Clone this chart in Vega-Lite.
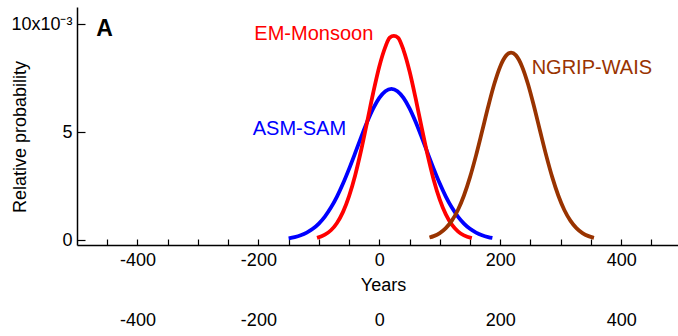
{
  "$schema": "https://vega.github.io/schema/vega-lite/v6.json",
  "width": 601,
  "height": 238,
  "autosize": {"type": "none"},
  "padding": {"left": 77, "top": 7, "right": 0, "bottom": 91},
  "background": "white",
  "config": {"view": {"stroke": null}, "font": "Liberation Sans"},
  "datasets": {
    "curves": [
      {"series": "ASM-SAM", "year": -150, "prob": 0.082},
      {"series": "ASM-SAM", "year": -140, "prob": 0.136},
      {"series": "ASM-SAM", "year": -130, "prob": 0.219},
      {"series": "ASM-SAM", "year": -120, "prob": 0.343},
      {"series": "ASM-SAM", "year": -110, "prob": 0.519},
      {"series": "ASM-SAM", "year": -100, "prob": 0.763},
      {"series": "ASM-SAM", "year": -90, "prob": 1.087},
      {"series": "ASM-SAM", "year": -80, "prob": 1.502},
      {"series": "ASM-SAM", "year": -70, "prob": 2.013},
      {"series": "ASM-SAM", "year": -60, "prob": 2.614},
      {"series": "ASM-SAM", "year": -50, "prob": 3.293},
      {"series": "ASM-SAM", "year": -40, "prob": 4.023},
      {"series": "ASM-SAM", "year": -30, "prob": 4.764},
      {"series": "ASM-SAM", "year": -20, "prob": 5.473},
      {"series": "ASM-SAM", "year": -10, "prob": 6.095},
      {"series": "ASM-SAM", "year": 0, "prob": 6.582},
      {"series": "ASM-SAM", "year": 10, "prob": 6.893},
      {"series": "ASM-SAM", "year": 20, "prob": 7.0},
      {"series": "ASM-SAM", "year": 30, "prob": 6.893},
      {"series": "ASM-SAM", "year": 40, "prob": 6.582},
      {"series": "ASM-SAM", "year": 50, "prob": 6.095},
      {"series": "ASM-SAM", "year": 60, "prob": 5.473},
      {"series": "ASM-SAM", "year": 70, "prob": 4.764},
      {"series": "ASM-SAM", "year": 80, "prob": 4.023},
      {"series": "ASM-SAM", "year": 90, "prob": 3.293},
      {"series": "ASM-SAM", "year": 100, "prob": 2.614},
      {"series": "ASM-SAM", "year": 110, "prob": 2.013},
      {"series": "ASM-SAM", "year": 120, "prob": 1.502},
      {"series": "ASM-SAM", "year": 130, "prob": 1.087},
      {"series": "ASM-SAM", "year": 140, "prob": 0.763},
      {"series": "ASM-SAM", "year": 150, "prob": 0.519},
      {"series": "ASM-SAM", "year": 160, "prob": 0.343},
      {"series": "ASM-SAM", "year": 170, "prob": 0.219},
      {"series": "ASM-SAM", "year": 180, "prob": 0.136},
      {"series": "ASM-SAM", "year": 187, "prob": 0.096},
      {"series": "EM-Monsoon", "year": -103, "prob": 0.102},
      {"series": "EM-Monsoon", "year": -90, "prob": 0.246},
      {"series": "EM-Monsoon", "year": -80, "prob": 0.453},
      {"series": "EM-Monsoon", "year": -70, "prob": 0.791},
      {"series": "EM-Monsoon", "year": -60, "prob": 1.303},
      {"series": "EM-Monsoon", "year": -50, "prob": 2.032},
      {"series": "EM-Monsoon", "year": -40, "prob": 2.992},
      {"series": "EM-Monsoon", "year": -30, "prob": 4.167},
      {"series": "EM-Monsoon", "year": -20, "prob": 5.488},
      {"series": "EM-Monsoon", "year": -10, "prob": 6.832},
      {"series": "EM-Monsoon", "year": 0, "prob": 8.039},
      {"series": "EM-Monsoon", "year": 10, "prob": 8.944},
      {"series": "EM-Monsoon", "year": 17, "prob": 9.37},
      {"series": "EM-Monsoon", "year": 24, "prob": 9.45},
      {"series": "EM-Monsoon", "year": 31, "prob": 9.37},
      {"series": "EM-Monsoon", "year": 40, "prob": 8.795},
      {"series": "EM-Monsoon", "year": 50, "prob": 7.816},
      {"series": "EM-Monsoon", "year": 60, "prob": 6.568},
      {"series": "EM-Monsoon", "year": 70, "prob": 5.217},
      {"series": "EM-Monsoon", "year": 80, "prob": 3.918},
      {"series": "EM-Monsoon", "year": 90, "prob": 2.782},
      {"series": "EM-Monsoon", "year": 100, "prob": 1.867},
      {"series": "EM-Monsoon", "year": 110, "prob": 1.185},
      {"series": "EM-Monsoon", "year": 120, "prob": 0.711},
      {"series": "EM-Monsoon", "year": 130, "prob": 0.403},
      {"series": "EM-Monsoon", "year": 140, "prob": 0.216},
      {"series": "EM-Monsoon", "year": 153, "prob": 0.088},
      {"series": "NGRIP-WAIS", "year": 83, "prob": 0.117},
      {"series": "NGRIP-WAIS", "year": 90, "prob": 0.181},
      {"series": "NGRIP-WAIS", "year": 100, "prob": 0.323},
      {"series": "NGRIP-WAIS", "year": 110, "prob": 0.552},
      {"series": "NGRIP-WAIS", "year": 120, "prob": 0.898},
      {"series": "NGRIP-WAIS", "year": 130, "prob": 1.392},
      {"series": "NGRIP-WAIS", "year": 140, "prob": 2.062},
      {"series": "NGRIP-WAIS", "year": 150, "prob": 2.911},
      {"series": "NGRIP-WAIS", "year": 160, "prob": 3.92},
      {"series": "NGRIP-WAIS", "year": 170, "prob": 5.036},
      {"series": "NGRIP-WAIS", "year": 180, "prob": 6.171},
      {"series": "NGRIP-WAIS", "year": 190, "prob": 7.212},
      {"series": "NGRIP-WAIS", "year": 200, "prob": 8.04},
      {"series": "NGRIP-WAIS", "year": 210, "prob": 8.55},
      {"series": "NGRIP-WAIS", "year": 218, "prob": 8.68},
      {"series": "NGRIP-WAIS", "year": 226, "prob": 8.55},
      {"series": "NGRIP-WAIS", "year": 236, "prob": 8.04},
      {"series": "NGRIP-WAIS", "year": 246, "prob": 7.212},
      {"series": "NGRIP-WAIS", "year": 256, "prob": 6.171},
      {"series": "NGRIP-WAIS", "year": 266, "prob": 5.036},
      {"series": "NGRIP-WAIS", "year": 276, "prob": 3.92},
      {"series": "NGRIP-WAIS", "year": 286, "prob": 2.911},
      {"series": "NGRIP-WAIS", "year": 296, "prob": 2.062},
      {"series": "NGRIP-WAIS", "year": 306, "prob": 1.392},
      {"series": "NGRIP-WAIS", "year": 316, "prob": 0.898},
      {"series": "NGRIP-WAIS", "year": 326, "prob": 0.552},
      {"series": "NGRIP-WAIS", "year": 336, "prob": 0.323},
      {"series": "NGRIP-WAIS", "year": 346, "prob": 0.181},
      {"series": "NGRIP-WAIS", "year": 355, "prob": 0.103}
    ],
    "rightLabels": [
      {"series": "EM-Monsoon", "year": -10, "prob": 9.54},
      {"series": "ASM-SAM", "year": -55, "prob": 5.14}
    ],
    "leftLabels": [
      {"series": "NGRIP-WAIS", "year": 252, "prob": 7.95}
    ],
    "panel": [
      {"name": "A", "year": -468, "prob": 9.77}
    ]
  },
  "layer": [
    {
      "data": {"name": "curves"},
      "mark": {"type": "line", "strokeWidth": 3.8, "interpolate": "monotone"},
      "encoding": {
        "x": {
          "field": "year", "type": "quantitative",
          "scale": {"domain": [-500, 494], "nice": false, "zero": false},
          "axis": {
            "orient": "bottom",
            "values": [-450, -400, -350, -300, -250, -200, -150, -100, -50, 0, 50, 100, 150, 200, 250, 300, 350, 400, 450],
            "labelExpr": "datum.value % 200 === 0 ? '' + datum.value : ''",
            "labelOverlap": false, "labelFlush": false,
            "grid": false,
            "tickSize": -6, "tickColor": "black", "tickWidth": 1.2,
            "domainColor": "black", "domainWidth": 1.5,
            "labelPadding": 12, "labelFontSize": 18, "labelColor": "black",
            "labelFont": "Liberation Sans",
            "title": "Years", "titleFontSize": 18, "titleFontWeight": "normal",
            "titleColor": "black", "titleFont": "Liberation Sans",
            "titleX": 306, "titleY": 40, "titleBaseline": "middle", "titleAlign": "center"
          }
        },
        "y": {
          "field": "prob", "type": "quantitative",
          "scale": {"domain": [-0.23, 10.79], "nice": false, "zero": false},
          "axis": {
            "values": [0, 5, 10],
            "labelExpr": "datum.value === 10 ? '10x10⁻³' : '' + datum.value",
            "grid": false,
            "tickSize": -8, "tickColor": "black", "tickWidth": 1.2,
            "domainColor": "black", "domainWidth": 1.5,
            "labelPadding": 13, "labelFontSize": 18, "labelColor": "black",
            "labelFont": "Liberation Sans",
            "title": "Relative probability", "titleFontSize": 18, "titleFontWeight": "normal",
            "titleColor": "black", "titleFont": "Liberation Sans",
            "titleX": -57, "titleY": 129.5, "titleAngle": -90,
            "titleBaseline": "middle", "titleAlign": "center"
          }
        },
        "color": {
          "field": "series", "type": "nominal",
          "scale": {"domain": ["ASM-SAM", "EM-Monsoon", "NGRIP-WAIS"], "range": ["#0000ff", "#ff0000", "#993300"]},
          "legend": null
        }
      }
    },
    {
      "data": {"name": "rightLabels"},
      "mark": {"type": "text", "align": "right", "baseline": "middle", "fontSize": 20, "font": "Liberation Sans"},
      "encoding": {
        "x": {"field": "year", "type": "quantitative", "axis": null},
        "y": {"field": "prob", "type": "quantitative"},
        "text": {"field": "series"},
        "color": {"field": "series", "type": "nominal", "legend": null}
      }
    },
    {
      "data": {"name": "leftLabels"},
      "mark": {"type": "text", "align": "left", "baseline": "middle", "fontSize": 20, "font": "Liberation Sans"},
      "encoding": {
        "x": {"field": "year", "type": "quantitative", "axis": null},
        "y": {"field": "prob", "type": "quantitative"},
        "text": {"field": "series"},
        "color": {"field": "series", "type": "nominal", "legend": null}
      }
    },
    {
      "data": {"name": "panel"},
      "mark": {"type": "text", "align": "left", "baseline": "middle", "fontSize": 23, "fontWeight": "bold", "font": "Liberation Sans", "color": "black"},
      "encoding": {
        "x": {
          "field": "year", "type": "quantitative",
          "axis": {
            "orient": "bottom", "offset": 59,
            "values": [-400, -200, 0, 200, 400],
            "labelExpr": "'' + datum.value",
            "domain": false, "ticks": false, "grid": false,
            "labelPadding": 7, "labelFontSize": 18, "labelColor": "black",
            "labelFont": "Liberation Sans", "labelFlush": false, "labelOverlap": false,
            "title": null
          }
        },
        "y": {"field": "prob", "type": "quantitative"},
        "text": {"field": "name"}
      }
    }
  ],
  "resolve": {"axis": {"x": "independent"}}
}
